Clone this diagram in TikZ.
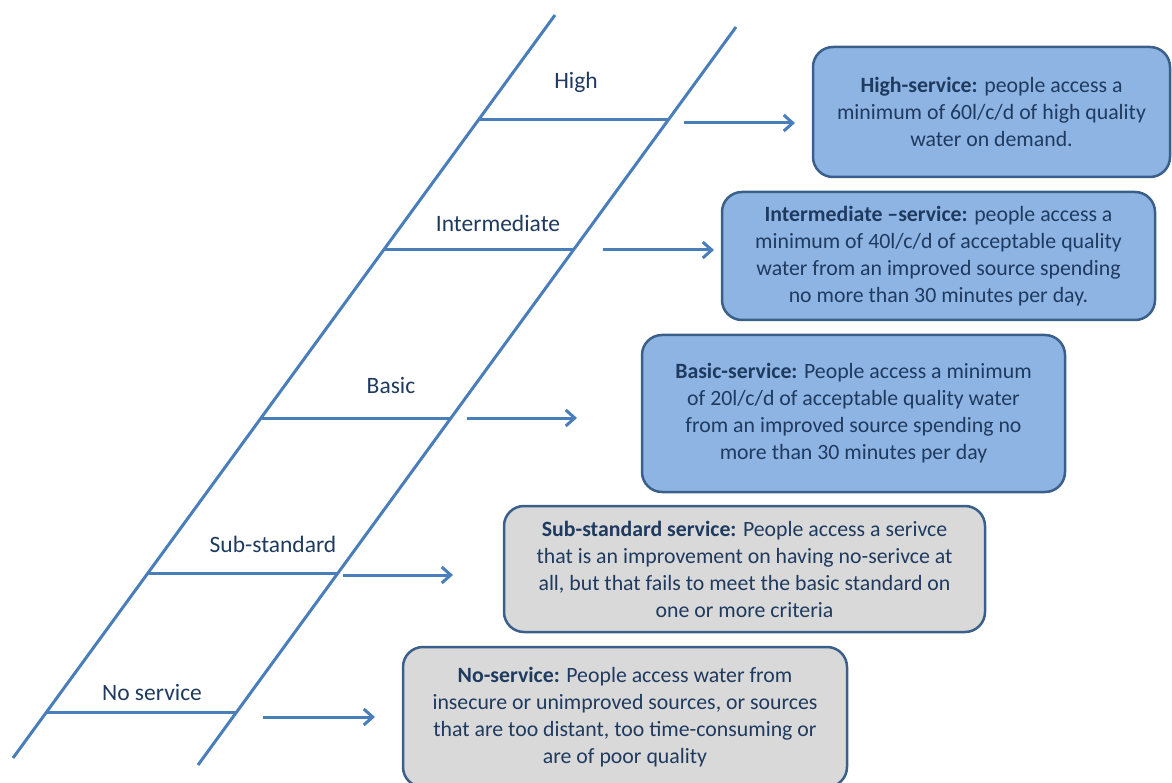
\documentclass[tikz,border=0pt]{standalone}
\usepackage{fontspec}
\setmainfont{Carlito}
\usepackage{tikz}
\usetikzlibrary{arrows.meta,positioning}
\definecolor{ladderblue}{HTML}{4A7EBB}
\definecolor{boxblue}{HTML}{8EB4E3}
\definecolor{boxgrey}{HTML}{D9D9D9}
\definecolor{boxedge}{HTML}{3A5F8B}
\definecolor{labeltext}{HTML}{1F3A5F}

\begin{document}
\begin{tikzpicture}[x=1pt,y=-1pt,
    rail/.style={draw=ladderblue, line width=3pt},
    pointer/.style={rail, -{Straight Barb[length=9pt,width=16pt]}},
    steplabel/.style={font=\fontsize{23.5}{28}\selectfont, text=labeltext},
    levelbox/.style={draw=boxedge, line width=2.5pt, rounded corners=20pt, align=center,
        font=\fontsize{21.8}{27}\selectfont, text=labeltext, inner sep=0pt},
    bluebox/.style={levelbox, fill=boxblue},
    greybox/.style={levelbox, fill=boxgrey}]
    \clip (0,0) rectangle (1172,783);

    % ladder rails
    \coordinate (railLbot) at (13,758);
    \coordinate (railLtop) at (555,15);
    \coordinate (railRbot) at (198,765);
    \coordinate (railRtop) at (736,27);
    \draw[rail] (railLbot) -- (railLtop);
    \draw[rail] (railRbot) -- (railRtop);

    % rungs
    \coordinate (hiL) at (478,120);   \coordinate (hiR) at (668,120);
    \coordinate (imL) at (384,250);   \coordinate (imR) at (573,250);
    \coordinate (baL) at (261,418);   \coordinate (baR) at (451,418);
    \coordinate (suL) at (148,573);   \coordinate (suR) at (338,573);
    \coordinate (noL) at (47,712);    \coordinate (noR) at (237,712);
    \draw[rail] (hiL) -- (hiR);
    \draw[rail] (imL) -- (imR);
    \draw[rail] (baL) -- (baR);
    \draw[rail] (suL) -- (suR);
    \draw[rail] (noL) -- (noR);

    % rung labels
    \node[steplabel] (lblHigh) at (576,82) {High};
    \node[steplabel] (lblInter) at (498,223) {Intermediate};
    \node[steplabel] (lblBasic) at (391,386) {Basic};
    \node[steplabel] (lblSub) at (273,544) {Sub-standard};
    \node[steplabel] (lblNo) at (152,692) {No service};

    % service boxes
    \node[bluebox, minimum width=357pt, minimum height=130pt] (boxHigh) at (991.5,112)
        {\textbf{High-service:} people access a\\
         minimum of 60l/c/d of high quality\\
         water on demand.};
    \node[bluebox, minimum width=433pt, minimum height=128pt] (boxInter) at (938.5,256)
        {\textbf{Intermediate --service:} people access a\\
         minimum of 40l/c/d of acceptable quality\\
         water from an improved source spending\\
         no more than 30 minutes per day.};
    \node[bluebox, minimum width=423pt, minimum height=157pt] (boxBasic) at (853.5,413.5)
        {\textbf{Basic-service:} People access a minimum\\
         of 20l/c/d of acceptable quality water\\
         from an improved source spending no\\
         more than 30 minutes per day};
    \node[greybox, minimum width=481pt, minimum height=126pt] (boxSub) at (744.5,569)
        {\textbf{Sub-standard service:} People access a serivce\\
         that is an improvement on having no-serivce at\\
         all, but that fails to meet the basic standard on\\
         one or more criteria};
    \node[greybox, minimum width=444pt, minimum height=140pt] (boxNo) at (625,717)
        {\textbf{No-service:} People access water from\\
         insecure or unimproved sources, or sources\\
         that are too distant, too time-consuming or\\
         are of poor quality};

    % arrows from rungs
    \coordinate (hiA) at (684,123);  \coordinate (hiB) at (795,123);
    \coordinate (imA) at (603,250);  \coordinate (imB) at (714,250);
    \coordinate (baA) at (467,418);  \coordinate (baB) at (577,418);
    \coordinate (suA) at (343,575);  \coordinate (suB) at (453,575);
    \coordinate (noA) at (263,717);  \coordinate (noB) at (375,717);
    \draw[pointer] (hiA) -- (hiB);
    \draw[pointer] (imA) -- (imB);
    \draw[pointer] (baA) -- (baB);
    \draw[pointer] (suA) -- (suB);
    \draw[pointer] (noA) -- (noB);
\end{tikzpicture}
\end{document}
